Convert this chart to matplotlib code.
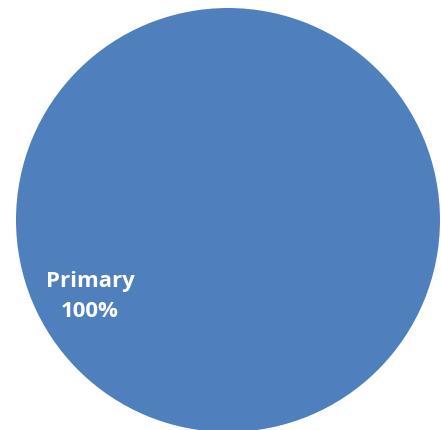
import matplotlib
matplotlib.use('Agg')

import matplotlib.pyplot as plt

# data
categories = ['Primary']
values = [100]
colors = ['#4f80bd']

fig = plt.figure(figsize=(4.41, 4.30), dpi=100)
ax = fig.add_axes([0, 0, 1, 1])

wedges, texts, autotexts = ax.pie(
    values, colors=colors, radius=1.0, startangle=29.1,
    autopct=lambda p: f'{categories[0]}\n{p:.0f}%', pctdistance=0.745,
    wedgeprops=dict(linewidth=0),
    textprops=dict(color='white', fontsize=16, fontweight='bold', family='Open Sans', linespacing=1.55),
)

# circle is ~212 px radius, centred at (228, 220) from top-left
ax.set_xlim(-228 / 212, (441 - 228) / 212)
ax.set_ylim(-(430 - 220) / 212, 220 / 212)
ax.set_aspect('auto')
ax.axis('off')

plt.savefig('out.png', dpi=100)
